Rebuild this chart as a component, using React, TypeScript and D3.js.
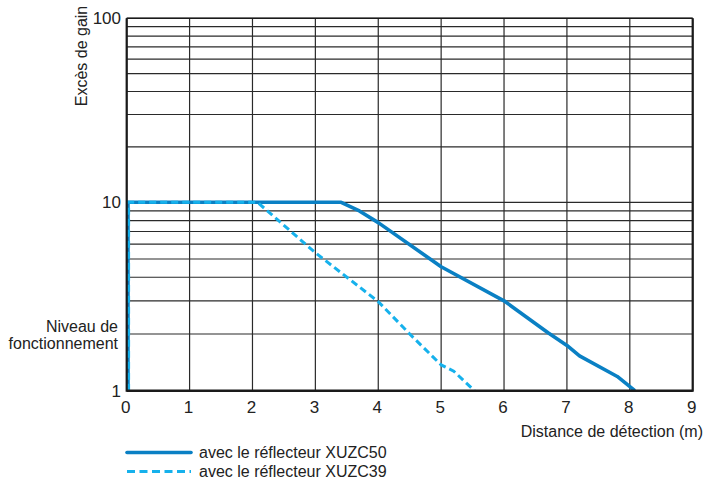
import React from "react";
import * as d3 from "d3";

const xTicks = [0, 1, 2, 3, 4, 5, 6, 7, 8, 9];
const yTickLabels = [
  { v: 100, label: "100" },
  { v: 10, label: "10" },
  { v: 1, label: "1" },
];
const yGrid = [1, 2, 3, 4, 5, 6, 7, 8, 9, 10, 20, 30, 40, 50, 60, 70, 80, 90, 100];

const xuzc50X = [0.02, 0.02, 3.41, 3.7, 4.0, 5.0, 6.0, 6.7, 7.0, 7.2, 7.8, 8.08];
const xuzc50Y = [1, 10, 10, 9.0, 7.8, 4.55, 3.0, 2.03, 1.74, 1.53, 1.19, 1];

const xuzc39X = [0.03, 0.03, 2.08, 3.0, 4.0, 4.5, 5.0, 5.2, 5.53];
const xuzc39Y = [1, 10, 10, 5.4, 2.97, 2.0, 1.37, 1.27, 1];

const legendLabels = ["avec le réflecteur XUZC50", "avec le réflecteur XUZC39"];

const FONT = "'Liberation Sans', Arial, sans-serif";

export default function App() {
  const x = d3.scaleLinear().domain([0, 9]).range([126.7, 692.7]);
  const y = d3.scaleLog().domain([1, 10, 100]).range([390.7, 202.3, 18.3]);

  const line = d3
    .line<[number, number]>()
    .x((d) => x(d[0]))
    .y((d) => y(d[1]));

  const s50 = xuzc50X.map((v, i) => [v, xuzc50Y[i]] as [number, number]);
  const s39 = xuzc39X.map((v, i) => [v, xuzc39Y[i]] as [number, number]);

  const x0 = x(0), x9 = x(9), yTop = y(100), yBot = y(1);

  return (
    <svg
      width={704}
      height={479}
      style={{ position: "absolute", left: 0, top: 0, background: "#fff" }}
      fontFamily={FONT}
    >
      {/* grid */}
      {yGrid.map((g) => (
        <line key={"h" + g} x1={x0} x2={x9} y1={y(g)} y2={y(g)} stroke="#2a2a2a" strokeWidth={1.2} />
      ))}
      {xTicks.map((t) => (
        <line key={"v" + t} x1={x(t)} x2={x(t)} y1={yTop} y2={yBot} stroke="#2a2a2a" strokeWidth={1.2} />
      ))}

      {/* series */}
      <path d={line(s50) || ""} fill="none" stroke="#0a80c4" strokeWidth={3.6} strokeLinejoin="round" />
      <path d={line(s39) || ""} fill="none" stroke="#16b1ec" strokeWidth={3} strokeDasharray="7,4" />

      {/* frame */}
      <line x1={x0} x2={x9} y1={yTop} y2={yTop} stroke="#1a1a1a" strokeWidth={1.6} />
      <line x1={x0} x2={x9} y1={yBot} y2={yBot} stroke="#1a1a1a" strokeWidth={2.6} />
      <line x1={x0} x2={x0} y1={yTop} y2={yBot + 1} stroke="#1a1a1a" strokeWidth={2.2} />
      <line x1={x9} x2={x9} y1={yTop} y2={yBot + 1} stroke="#1a1a1a" strokeWidth={2.2} />

      {/* x tick labels */}
      {xTicks.map((t) => (
        <text key={"xl" + t} x={x(t) - 1} y={413} textAnchor="middle" fontSize={17} fill="#222">
          {t}
        </text>
      ))}
      {/* y tick labels */}
      {yTickLabels.map((t) => (
        <text key={"yl" + t.v} x={121} y={y(t.v) + 6} textAnchor="end" fontSize={17} fill="#222">
          {t.label}
        </text>
      ))}
      <text x={118} y={332} textAnchor="end" fontSize={16} fill="#222">Niveau de</text>
      <text x={118} y={349} textAnchor="end" fontSize={16} fill="#222">fonctionnement</text>

      {/* axis titles */}
      <text
        transform={`translate(87,56) rotate(-90)`}
        textAnchor="middle"
        fontSize={16}
        fill="#222"
      >
        Excès de gain
      </text>
      <text x={703} y={437} textAnchor="end" fontSize={16} fill="#222">
        Distance de détection (m)
      </text>

      {/* legend */}
      <line x1={127} x2={191} y1={452.5} y2={452.5} stroke="#0a80c4" strokeWidth={3.6} strokeLinecap="round" />
      <text x={199} y={458} fontSize={16} fill="#222">{legendLabels[0]}</text>
      <line x1={127} x2={191} y1={471.5} y2={471.5} stroke="#16b1ec" strokeWidth={3} strokeDasharray="8,4.5" />
      <text x={199} y={477} fontSize={16} fill="#222">{legendLabels[1]}</text>
    </svg>
  );
}
